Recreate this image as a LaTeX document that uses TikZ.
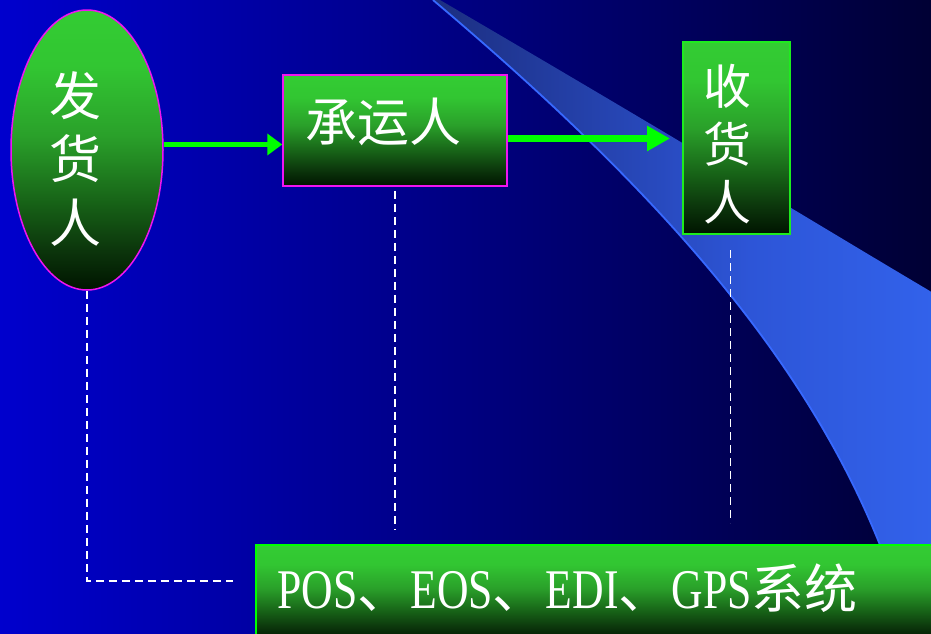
\documentclass[tikz,border=0pt]{standalone}
\usepackage{fontspec}
\usetikzlibrary{shapes.geometric,arrows.meta}
\newfontfamily\cjk{Noto Sans CJK SC}
\newfontfamily\latn[FakeStretch=0.78]{Liberation Serif}
\newcommand{\lat}[1]{{\latn\fontsize{56}{60}\selectfont #1}}
\newcommand{\han}[1]{{\cjk\fontsize{53}{60}\selectfont #1}}
\definecolor{bgL}{RGB}{0,0,205}
\definecolor{bgR}{RGB}{0,0,52}
\definecolor{mag}{RGB}{240,20,240}
\definecolor{grn}{RGB}{0,255,0}
\definecolor{boxgrn}{RGB}{30,235,30}
\definecolor{edgeblue}{RGB}{55,105,255}
\definecolor{g0}{RGB}{0,20,0}
\definecolor{g1}{RGB}{12,55,12}
\definecolor{g2}{RGB}{22,95,22}
\definecolor{g3}{RGB}{42,160,42}
\definecolor{g4}{RGB}{50,198,50}
\definecolor{g5}{RGB}{51,204,51}
\definecolor{b0}{RGB}{28,46,128}
\definecolor{b1}{RGB}{45,85,215}
\definecolor{b2}{RGB}{50,98,235}
\pgfdeclareverticalshading{greenfade}{100bp}{color(0bp)=(g0); color(25bp)=(g0); color(32.5bp)=(g1); color(40bp)=(g2); color(52.5bp)=(g3); color(65bp)=(g4); color(75bp)=(g5); color(100bp)=(g5)}
\pgfdeclarehorizontalshading{bandshade}{100bp}{color(0bp)=(b0); color(25bp)=(b0); color(56.5bp)=(b1); color(75bp)=(b2); color(100bp)=(b2)}
\tikzset{
  greenbox/.style={shading=greenfade, inner sep=0pt},
  txt/.style={text=white, inner sep=0pt},
  arrowline/.style={draw=grn, line width=#1},
  dashln/.style={draw=white, line width=1.7pt, dash pattern=on 8pt off 5pt}
}
\begin{document}
\begin{tikzpicture}[x=1pt,y=-1pt]
\useasboundingbox (0,0) rectangle (931,633);
% background
\shade[left color=bgL, right color=bgR] (0,0) rectangle (931,633);
% swoosh band
\shade[shading=bandshade]
  (433,0) .. controls (640,175) and (800,345) .. (880,545) -- (918,640)
  -- (935,640) -- (935,294)
  .. controls (830,232) and (690,146) .. (440,0) -- cycle;
\draw[edgeblue, line width=1.8pt]
  (433,0) .. controls (640,175) and (800,345) .. (880,545) -- (918,640);
% nodes
\node[greenbox, ellipse, draw=mag, line width=1.5pt, minimum width=152pt, minimum height=280pt] (e) at (87,150) {};
\node[txt, font=\cjk\fontsize{52}{63.5}\selectfont, align=center] (et) at (75,159) {发\\货\\人};
\node[greenbox, rectangle, draw=mag, line width=1.5pt, minimum width=224pt, minimum height=111pt] (b) at (395,130.5) {};
\node[txt, font=\cjk\fontsize{52}{60}\selectfont] (bt) at (383,122) {承运人};
\node[greenbox, rectangle, draw=boxgrn, line width=1.8pt, minimum width=107pt, minimum height=192pt] (r) at (736.5,138) {};
\node[txt, font=\cjk\fontsize{48}{58}\selectfont, align=center] (rt) at (727,144) {收\\货\\人};
\node[greenbox, rectangle, draw=grn, line width=2pt, minimum width=690pt, minimum height=96pt, anchor=north west] (s) at (255,544) {};
\node[txt, anchor=base west] (st) at (277,608) {\lat{POS}\han{、}\lat{EOS}\han{、}\lat{EDI}\han{、}\lat{GPS}\han{系统}};
% arrows
\coordinate (a2end) at (670,138.5);
\draw[arrowline=5pt, -{Triangle[length=15pt,width=21pt]}] ([yshift=5.5pt]e.east) -- ([yshift=-14pt]b.west);
\draw[arrowline=7pt, -{Triangle[length=23pt,width=24pt]}] ([yshift=-8pt]b.east) -- (a2end);
% dashed connectors
\coordinate (d1) at (87,581);
\coordinate (d1e) at (233,581);
\coordinate (d2) at (395,530);
\coordinate (d3s) at (730.5,250);
\coordinate (d3) at (730.5,523);
\draw[dashln] (e.south) -- (d1) -- (d1e);
\draw[dashln] ([yshift=-4pt]b.south) -- (d2);
\draw[dashln] (d3s) -- (d3);
\end{tikzpicture}
\end{document}
